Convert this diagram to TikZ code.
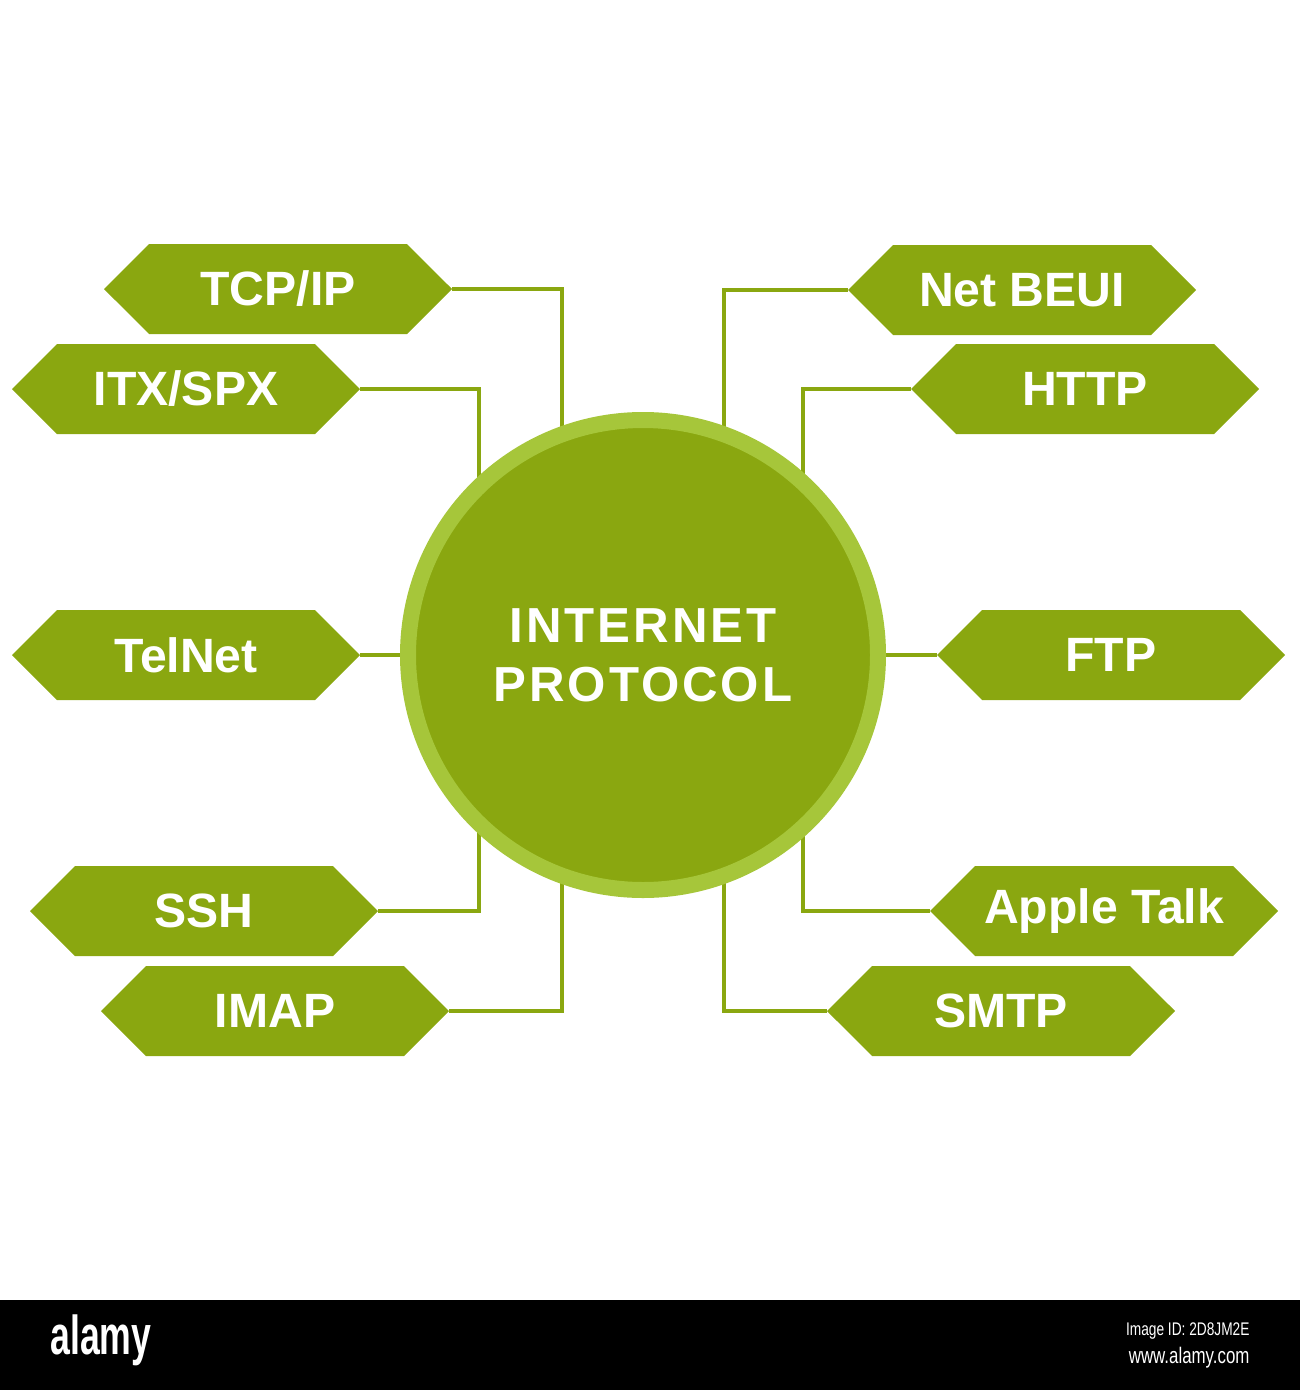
\documentclass[tikz,border=0pt]{standalone}
\usepackage{fontspec}
\setmainfont{Liberation Sans}
\usetikzlibrary{shapes.symbols, backgrounds}
\definecolor{leaf}{RGB}{138,167,16}
\definecolor{lime}{RGB}{166,198,58}
\tikzset{
	proto/.style={signal, signal to=west and east, signal pointer angle=90, fill=leaf, text=white, font=\bfseries\fontsize{13.7}{16}\selectfont, minimum width=34.8mm, minimum height=9mm, inner sep=0pt, outer sep=0pt},
	wire/.style={draw=leaf, line width=0.4mm}
}
\begin{document}
\begin{tikzpicture}[x=0.1mm, y=-0.1mm]
		\useasboundingbox (0,0) rectangle (1300,1390);
		%hub
			\node [circle, fill=leaf, draw=lime, line width=1.6mm, minimum size=47mm, inner sep=0pt, text=white, align=center, font=\bfseries\fontsize{14}{16.8}\selectfont\addfontfeature{LetterSpace=6}] (ip) at (643,655) {INTERNET\\PROTOCOL};
		%left side
			\node [proto] (tcp) at (278,289) {TCP/IP};
			\node [proto] (itx) at (186,389) {ITX/SPX};
			\node [proto] (telnet) at (186,655) {TelNet};
			\node [proto] (ssh) at (204,911) {SSH};
			\node [proto] (imap) at (275,1011) {IMAP};
		%right side
			\node [proto] (netbeui) at (1022,290) {Net BEUI};
			\node [proto] (http) at (1085,389) {HTTP};
			\node [proto] (ftp) at (1111,655) {FTP};
			\node [proto] (appletalk) at (1104,911) {Apple Talk};
			\node [proto] (smtp) at (1001,1011) {SMTP};
		%wires
		\begin{scope}[on background layer]
			\draw [wire] (tcp.east) -| ([xshift=-8.1mm]ip.center);
			\draw [wire] (itx.east) -| ([xshift=-16.4mm]ip.center);
			\draw [wire] (telnet.east) -- (ip.center);
			\draw [wire] (ssh.east) -| ([xshift=-16.4mm]ip.center);
			\draw [wire] (imap.east) -| ([xshift=-8.1mm]ip.center);
			\draw [wire] (netbeui.west) -| ([xshift=8.1mm]ip.center);
			\draw [wire] (http.west) -| ([xshift=16mm]ip.center);
			\draw [wire] (ftp.west) -- (ip.center);
			\draw [wire] (appletalk.west) -| ([xshift=16mm]ip.center);
			\draw [wire] (smtp.west) -| ([xshift=8.1mm]ip.center);
		\end{scope}
		%footer
			\fill [black] (0,1300) rectangle (1300,1390);
			\node [anchor=west, text=white, font=\bfseries\fontsize{15.6}{18}\selectfont, xscale=0.65, transform shape, inner sep=0pt] (brand) at (50,1340) {alamy};
			\node [anchor=east, text=white, font=\fontsize{5.2}{6}\selectfont, xscale=0.75, transform shape, inner sep=0pt] (imgid) at (1250,1331) {Image ID: 2D8JM2E};
			\node [anchor=east, text=white, font=\fontsize{6.4}{7}\selectfont, xscale=0.75, transform shape, inner sep=0pt] (site) at (1250,1358) {www.alamy.com};
\end{tikzpicture}
\end{document}
